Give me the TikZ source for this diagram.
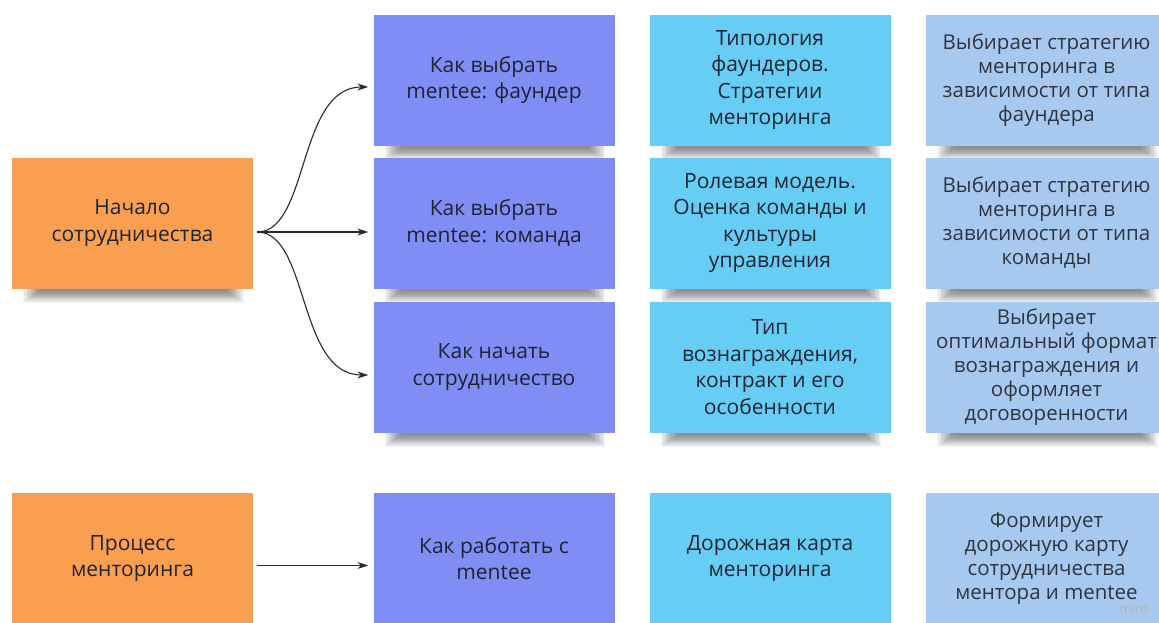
\documentclass[tikz,border=0pt]{standalone}
\usepackage{fontspec}
\setmainfont{Open Sans}
\usetikzlibrary{arrows.meta}
\pgfdeclarelayer{bg}
\pgfsetlayers{bg,main}
\definecolor{orng}{HTML}{FA9F4F}
\definecolor{purp}{HTML}{7F8DF4}
\definecolor{cyanb}{HTML}{66CDF4}
\definecolor{lblue}{HTML}{A7C9F0}
\definecolor{txt}{HTML}{1E2433}
\definecolor{txtg}{HTML}{2E3440}
\definecolor{arr}{HTML}{2A2A2A}
\tikzset{
  card/.style={minimum width=241pt, minimum height=131pt, inner sep=0pt, align=center,
    text=txt, font=\fontsize{21}{26.5}\selectfont},
  orcard/.style={card, fill=orng},
  pucard/.style={card, fill=purp},
  cycard/.style={card, fill=cyanb},
  lbcard/.style={card, fill=lblue, text=txtg, font=\fontsize{20.5}{24}\selectfont},
  shadowlayer/.style={fill=black, fill opacity=0.04},
  conn/.style={draw=arr, line width=1.1pt, -{Stealth[length=11pt,width=7pt]}}
}
\begin{document}
\begin{tikzpicture}[x=1pt,y=-1pt]
\useasboundingbox (0,0) rectangle (1159,622);
\clip (0,0) rectangle (1159,622);

\node[orcard] (o1) at (132.5,223) {Начало\\сотрудничества};
\node[orcard] (o2) at (132.5,558.5) {Процесс\\менторинга};

\node[pucard] (p1) at (494,80) {Как выбрать\\mentee: фаундер};
\node[pucard] (p2) at (494,223) {Как выбрать\\mentee: команда};
\node[pucard] (p3) at (494,367) {Как начать\\сотрудничество};
\node[pucard] (p4) at (494,558.5) {Как работать с\\mentee};

\node[cycard] (c1) at (770,80) {Типология\\фаундеров.\\Стратегии\\менторинга};
\node[cycard] (c2) at (770,223) {Ролевая модель.\\Оценка команды и\\культуры\\управления};
\node[cycard] (c3) at (770,367) {Тип\\вознаграждения,\\контракт и его\\особенности};
\node[cycard] (c4) at (770,558.5) {Дорожная карта\\менторинга};

\node[lbcard] (l1) at (1046.5,80) {Выбирает стратегию\\менторинга в\\зависимости от типа\\фаундера};
\node[lbcard] (l2) at (1046.5,223) {Выбирает стратегию\\менторинга в\\зависимости от типа\\команды};
\node[lbcard] (l3) at (1046.5,367) {Выбирает\\оптимальный формат\\вознаграждения и\\оформляет\\договоренности};
\node[lbcard] (l4) at (1046.5,558.5) {Формирует\\дорожную карту\\сотрудничества\\ментора и mentee};

\node[text=gray!60, font=\fontsize{13}{14}\selectfont, anchor=south east, inner sep=0pt] (miro) at (1148,614) {miro};

\begin{pgfonlayer}{bg}
\fill[white] (0,0) rectangle (1159,622);
\foreach \n in {o1,p1,p2,p3,c1,c2,c3,l1,l2,l3}{
  \foreach \k in {1,...,14}{
    \fill[shadowlayer] ([xshift={10pt+\k*1.3pt}, yshift=4pt]\n.south west)
      rectangle ([xshift={-8pt-\k*1.3pt}, yshift={-15pt+\k*0.9pt}]\n.south east);
  }
}
\end{pgfonlayer}

\coordinate (s1) at ([xshift=4pt,yshift=-9pt]o1.east);
\coordinate (s2) at ([xshift=4pt,yshift=-7pt]o2.east);
\draw[conn] (s1) .. controls ([xshift=52pt]s1) and ([xshift=-76pt,yshift=-7pt]p1.west) .. ([xshift=-5pt,yshift=-7pt]p1.west);
\draw[conn] (s1) -- ([xshift=-5pt]s1 -| p2.west);
\draw[conn] (s1) .. controls ([xshift=52pt]s1) and ([xshift=-76pt,yshift=-8pt]p3.west) .. ([xshift=-5pt,yshift=-8pt]p3.west);
\draw[conn] (s2) -- ([xshift=-5pt]s2 -| p4.west);
\end{tikzpicture}
\end{document}
